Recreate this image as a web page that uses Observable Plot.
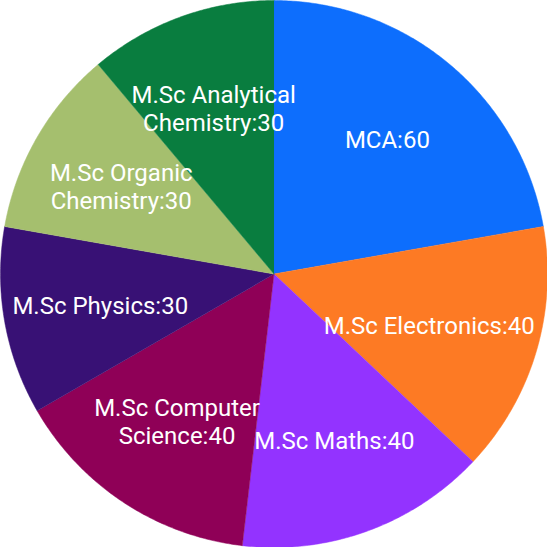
<!DOCTYPE html>
<html>
<head>
<meta charset="utf-8">
<script src="https://cdn.jsdelivr.net/npm/d3@7"></script>
<script src="https://cdn.jsdelivr.net/npm/@observablehq/plot@0.6"></script>
<style>
  html, body { margin: 0; padding: 0; background: #fff; }
</style>
</head>
<body>
<div id="chart"></div>
<script>
// ---- data ----
const categories = ["MCA", "M.Sc Electronics", "M.Sc Maths", "M.Sc Computer Science", "M.Sc Physics", "M.Sc Organic Chemistry", "M.Sc Analytical Chemistry"];
const values = [60, 40, 40, 40, 30, 30, 30];
const labelLines = ["MCA:60", "M.Sc Electronics:40", "M.Sc Maths:40", "M.Sc Computer\nScience:40", "M.Sc Physics:30", "M.Sc Organic\nChemistry:30", "M.Sc Analytical\nChemistry:30"];
const colors = ["#0d6efd", "#fd7a24", "#9333ff", "#8f0057", "#381175", "#a5bf6e", "#097d3f"];

// ---- layout ----
const W = 547, H = 547;
const R = W / 2;             // pixels per data unit
const fontSize = 24, lineHeight = 1.17, labelR = 0.645, pad = 5;

const pie = d3.pie().sort(null).value(d => d.value)(categories.map((c, i) => ({cat: c, value: values[i], label: labelLines[i]})));

// polygon points for each slice (center + arc samples)
const pts = [];
for (const s of pie) {
  pts.push({cat: s.data.cat, x: 0, y: 0});
  const n = Math.max(2, Math.ceil((s.endAngle - s.startAngle) / (Math.PI / 360)));
  for (let k = 0; k <= n; k++) {
    const a = s.startAngle + (s.endAngle - s.startAngle) * k / n;
    pts.push({cat: s.data.cat, x: Math.sin(a), y: Math.cos(a)});
  }
}

// label positions, kept inside the circle
const ctx = document.createElement("canvas").getContext("2d");
ctx.font = `${fontSize}px Roboto`;
const labels = pie.map(s => {
  const a = (s.startAngle + s.endAngle) / 2;
  let px = labelR * R * Math.sin(a);
  const py = -labelR * R * Math.cos(a);
  const lines = s.data.label.split("\n");
  const w = d3.max(lines, l => ctx.measureText(l).width);
  const h = lines.length * fontSize * lineHeight;
  const maxdy = Math.max(Math.abs(py - h / 2), Math.abs(py + h / 2));
  const allowed = Math.sqrt(R * R - maxdy * maxdy) - pad;
  if (px + w / 2 > allowed) px = allowed - w / 2;
  if (px - w / 2 < -allowed) px = -allowed + w / 2;
  return {text: s.data.label, x: px / R, y: -py / R};
});

const chart = Plot.plot({
  width: W, height: H,
  margin: 0,
  x: {domain: [-1, 1], axis: null},
  y: {domain: [-1, 1], axis: null},
  color: {domain: categories, range: colors},
  marks: [
    Plot.line(pts, {x: "x", y: "y", z: "cat", fill: "cat", stroke: "cat", strokeWidth: 0.5}),
    Plot.text(labels, {x: "x", y: "y", text: "text", fill: "white", fontSize: fontSize, lineHeight: lineHeight, fontFamily: "Roboto", textAnchor: "middle"})
  ],
  style: {background: "white", fontFamily: "Roboto"}
});
document.getElementById("chart").append(chart);
</script>
</body>
</html>
